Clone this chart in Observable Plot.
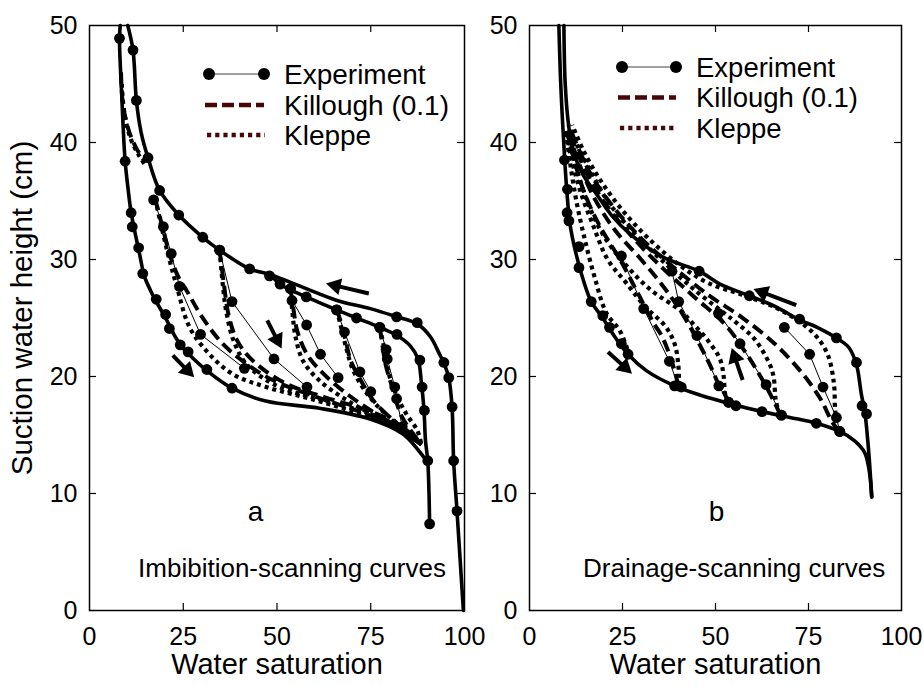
<!DOCTYPE html>
<html><head><meta charset="utf-8">
<script src="https://cdn.jsdelivr.net/npm/d3@7"></script>
<script src="https://cdn.jsdelivr.net/npm/@observablehq/plot@0.6"></script>
<style>
html,body{margin:0;padding:0;background:#fff;}
#wrap{position:relative;width:924px;height:685px;overflow:hidden;background:#fff;}
#wrap > div, #wrap > svg{position:absolute;top:0;}
</style></head>
<body><div id="wrap"><div id="pa" style="left:0"></div><div id="pb" style="left:470px"></div></div>
<script>
const FONT = '"Liberation Sans", Arial, Helvetica, sans-serif';

// ---------- shared axis values ----------
const xTicks = [0, 25, 50, 75, 100];
const yTicks = [0, 10, 20, 30, 40, 50];
const xInner = [25, 50, 75];
const yInner = [10, 20, 30, 40];
const xTitle = "Water saturation";
const yTitle = "Suction water height (cm)";
const legendLabels = ["Experiment", "Killough (0.1)", "Kleppe"];

// ---------- panel a : imbibition scanning ----------
const aBoundLower = [[8.2,50],[8.0,48.9],[8.6,44],[9.5,38.4],[10.3,36],[11.1,34.0],[12.2,32.2],[13.4,30.4],[14.6,28.6],[16.2,27.4],[17.8,26.4],[20.3,25.0],[22.5,23.6],[24.5,22.6],[26.5,21.9],[31.3,20.5],[38,19.0],[47,17.9],[61,17.3],[74.4,16.4],[83.5,15.1],[87.7,13.7],[89.6,12.9]];
const aBoundUpper = [[10.2,50],[11.6,47.9],[12.5,43.6],[13.8,40.8],[15.6,38.7],[18.7,35.9],[23.8,33.8],[30.2,31.9],[34.7,30.8],[42.7,29.2],[48.3,28.7],[57.1,27.6],[66,26.5],[74.9,25.8],[81.9,25.1],[87.4,24.5],[90.9,23.4],[93.2,22],[94.7,21.0],[95.8,19.9],[96.7,17.3],[97.1,12.8],[98,8.5],[99.7,0]];
const aBoundUpper2 = [[48.3,28.7],[50.8,27.9],[53.6,27.4],[57.8,26.8],[65.9,25.7],[71.2,25.0],[77.4,24.2],[82,23.5],[85.6,22.6],[87.6,21.5],[88.5,19.5],[89.2,17.1],[89.6,14.5],[90.2,12.8],[90.7,7.4]];
const aBoundDots = [[8.0,48.9],[9.5,38.4],[11.1,34.0],[11.4,32.8],[13.1,31.0],[14.2,28.8],[17.8,26.6],[20.3,25.3],[21.3,24.1],[24.2,22.7],[26.3,22.1],[31.3,20.6],[38,19.0],
  [11.6,47.9],[12.5,43.6],[15.6,38.7],[18.7,35.9],[23.8,33.8],[30.2,31.9],[34.7,30.8],[42.7,29.2],[48,28.6],[81.9,25.1],[87.4,24.6],[94.5,21.2],[95.8,19.9],[96.7,17.4],[97.1,12.8],[98,8.5],
  [50.8,27.9],[53.6,27.5],[57.8,26.8],[65.9,25.7],[71.2,25.0],[77.4,24.2],[82,23.6],[88.1,21.4],[88.7,19.1],[89.3,17.1],[90.2,12.8],[90.7,7.4]];
const aScanExp = [
  [[17.1,35.1],[19.7,32.8],[21.8,30.5],[24,27.7],[29.6,23.6],[41.3,20.7]],
  [[34.7,30.8],[38,26.4],[49.2,21.5],[58,19.1]],
  [[53.6,27.5],[54,26.5],[57.9,24.4],[61.6,21.9],[66.3,19.9]],
  [[65.9,25.7],[68,23.8],[72.1,20.4],[75,18.7]],
  [[77.4,24.2],[79.1,22.3],[79.4,21.5],[81.4,19.1],[81.9,18.1],[83.4,15.7]]
];
const aKillough = [
  [[8.4,46],[8.9,43.3],[10.5,41],[12.5,39.5],[14.7,38.4]],
  [[17.5,35.2],[19.6,32.6],[21.6,30.2],[24,28.3],[25.8,27.4],[30,25.1],[35.5,22.8],[41.8,21.1],[48.8,19.7],[60,18.3],[72,17.0],[82,15.7],[88.5,14.2]],
  [[34.7,30.8],[35.8,28],[37.2,25.1],[39.5,23],[43.4,21.4],[52.3,19.4],[63,18.2],[75,17],[83,15.8],[88.5,14.2]],
  [[53.6,27.5],[54.5,25.5],[55.4,23.9],[58,21.9],[62.5,20.2],[68.7,18.5],[75,17.1],[82,15.7],[88.5,14.2]],
  [[65.9,25.7],[66.5,25.2],[68.3,23.1],[69.6,21.4],[72.3,19.7],[75.8,17.9],[81.2,16.2],[88.5,14.2]],
  [[77.4,24.2],[78.2,22.5],[78.9,21.1],[80.7,19.1],[83.4,16.5],[88.5,14.2]]
];
const aKleppe = [
  [[8.6,45],[9.3,42.5],[11,40.3],[13,39],[15,38]],
  [[17.5,35.2],[19.2,32.8],[20.9,30.5],[23.2,27.8],[26.7,24.2],[32,21.9],[38.2,20.2],[47.1,19.1],[60,18],[72,16.8],[82,15.5],[88.5,14.2]],
  [[34.7,30.8],[35.5,28],[36.5,25.5],[38.5,23],[42,21],[50,19.2],[62,18],[74,16.9],[83,15.6],[88.5,14.2]],
  [[53.6,27.5],[54.2,25.2],[55,23.3],[57,21.3],[61.5,19.6],[68,18.1],[75,16.8],[82,15.5],[88.5,14.2]],
  [[65.9,25.7],[66.8,24.6],[68.5,22.4],[70.2,20.6],[73,19],[77,17.4],[82,16],[88.5,14.2]],
  [[77.4,24.2],[78.6,22.4],[79.6,20.5],[81.6,18.6],[84.5,16.8],[87.4,15.4],[88.5,14.2]]
];
const aArrows = [
  {x1: 74.5, y1: 27.1, x2: 63.8, y2: 27.9},
  {x1: 47.4, y1: 24.8, x2: 50.9, y2: 22.6},
  {x1: 22.2, y1: 21.8, x2: 27.4, y2: 20.1}
];
const aLetter = [{x: 44.3, y: 8.4, text: "a"}];
const aCaption = [{x: 54, y: 3.6, text: "Imbibition-scanning curves"}];

// ---------- panel b : drainage scanning ----------
const bBoundLower = [[7.9,50],[8.4,45],[9.2,40],[10,36],[10.9,33],[12.5,30.5],[14.5,28.2],[16.6,26.4],[19.7,25.0],[22.5,23.6],[26.5,21.9],[31.4,20.5],[39,19.2],[46,18.4],[53.7,17.7],[62.5,17.0],[70,16.5],[77.1,16.0],[83.4,15.3],[87.4,14.5],[90.1,13.5],[91.3,12],[92,9.7]];
const bBoundUpper = [[9.25,50],[9.6,45],[10.5,41.5],[11.7,39.3],[14.5,37.2],[18,35.6],[22,33.8],[27,32.2],[35.9,30.2],[45.6,29.0],[51.2,27.9],[59.1,26.9],[66,26],[72.2,24.9],[78,24.1],[82.5,23.3],[85.8,22.5],[87.9,21.0],[89.2,18.5],[90.2,16.8],[91.2,13.5],[92,9.7]];
const bBoundDots = [[9.4,38.5],[10.2,36],[10.1,34],[10.6,33.3],[13.3,31.1],[13.3,29.3],[16.6,26.4],[19.7,25.2],[21.5,24.2],[24.7,22.8],[26.5,21.9],[39,19.2],[40.8,19.1],[53.5,17.8],[55.5,17.5],[62.5,17.0],[67.7,16.7],[77.1,16.0],[83.4,15.3],
  [45.6,29.0],[59.1,26.9],[72.6,24.9],[82.5,23.3],[87.9,21.2],[89.4,17.5],[90.6,16.8]];
const bScanExp = [
  [[40,19.2],[37.6,21.3],[30.7,25.8],[24.7,30.3]],
  [[53.5,17.8],[50.9,19.2],[45,23.5],[40.1,26.4],[38.3,29.0]],
  [[67.7,16.7],[63.6,19.3],[56.6,22.8],[50.8,25.4]],
  [[83.4,15.3],[82.5,16.5],[78.9,19.1],[75.3,21.9],[68.5,24.2]]
];
const bKillough = [
  [[40,19.2],[39,20.5],[37.5,22],[35.5,23.5],[33.5,24.5],[29,27.2],[24.5,29.9],[19,32.8],[15,35.5],[12,38.5],[10,41]],
  [[53.5,17.8],[52,18.8],[50.6,19.5],[48.5,21],[46.1,22.5],[41.6,25.1],[36.2,27.6],[30,30],[23,32.5],[17,35.5],[13,38.5],[10.5,40.8]],
  [[67.5,16.7],[65.5,18],[63.2,19.4],[57.8,22.2],[52.4,24.5],[44.3,26.8],[36,29.2],[28,31.8],[21,34.5],[15.5,37.3],[12,39.8],[10.5,41]],
  [[83.4,15.3],[81.6,16],[78,18.2],[73,20.4],[65.9,22.8],[56.9,25.1],[48.8,26.8],[40,29],[31,31.5],[23,34.3],[17,37],[13,39.6],[10.8,41.3]]
];
const bKleppe = [
  [[27,21.7],[24.3,23.9],[20.7,25.4],[17.5,28.5],[14.8,31.8],[12.6,35],[10.8,38.5],[9.8,41]],
  [[40.2,19.2],[40,21],[39,22.8],[36.5,24.3],[31,26],[26,28],[21,30],[17,33],[13.5,36],[11,39],[9.8,41]],
  [[53.5,17.8],[52.6,18.5],[52.2,20],[51.2,21.5],[47.9,23.1],[44,24.5],[40.7,25.6],[32.6,27.4],[26,29.5],[20,32],[15.5,35],[12,38.5],[10.2,41]],
  [[67.2,16.7],[66.2,18],[65.6,20],[64.5,21.1],[60.5,23.2],[56,24.5],[52.4,25.4],[44,27.5],[36,29.8],[28,32.3],[21,35],[16,37.8],[12,40.3],[10.5,41.5]],
  [[83,15.4],[82.2,17],[81.8,19.5],[80,22],[76,23.8],[68,25.6],[58,26.9],[48,28],[40,29.6],[32,31.8],[25,34.2],[19,36.8],[14.5,39.3],[11.5,41.5]]
];
const bArrows = [
  {x1: 71.7, y1: 26.1, x2: 60.9, y2: 27.4},
  {x1: 57.3, y1: 19.7, x2: 54.6, y2: 22.2},
  {x1: 21.1, y1: 22.1, x2: 27.0, y2: 20.4}
];
const bLetter = [{x: 50.3, y: 8.4, text: "b"}];
const bCaption = [{x: 55, y: 3.6, text: "Drainage-scanning curves"}];

// ---------- helpers ----------
const pts = (list, id) => list.map(([x, y]) => ({x, y, id}));
const many = (lists, p) => lists.flatMap((l, i) => pts(l, p + i));

function panel(o) {
  const H = 685, mt = 25, mb = 75;
  const ph = H - mt - mb, pw = o.width - o.ml - o.mr;
  const kx = pw / 100, ky = ph / 50;          // pixels per data unit (for arrow-head orientation)
  const BACK = 7;
  const heads = o.arrows.map(a => {
    const dxp = (a.x2 - a.x1) * kx, dyp = -(a.y2 - a.y1) * ky;
    const L = Math.hypot(dxp, dyp), ux = dxp / L, uy = dyp / L;
    return {x1: a.x1, y1: a.y1, x: a.x2 - ux * BACK / kx, y: a.y2 + uy * BACK / ky,
            rot: Math.atan2(ux, -uy) * 180 / Math.PI};
  });
  const marks = [
    Plot.line(many(o.klep, "k"), {x: "x", y: "y", z: "id", curve: "catmull-rom", stroke: "black", strokeWidth: 4.2, strokeDasharray: "4,4", strokeLinecap: "butt"}),
    Plot.line(many(o.kill, "d"), {x: "x", y: "y", z: "id", curve: "catmull-rom", stroke: "black", strokeWidth: 4, strokeDasharray: "12,6", strokeLinecap: "butt"}),
    Plot.line(many(o.exp, "e"), {x: "x", y: "y", z: "id", stroke: "black", strokeWidth: 1}),
    Plot.line(many(o.bounds, "b"), {x: "x", y: "y", z: "id", curve: "catmull-rom", stroke: "black", strokeWidth: 3.6}),
    Plot.dot(pts(o.dots.concat(o.exp.flat()), "p"), {x: "x", y: "y", r: 5.4, fill: "black", stroke: "none"}),
    Plot.link(heads, {x1: "x1", y1: "y1", x2: "x", y2: "y", stroke: "black", strokeWidth: 4}),
    Plot.dot(heads, {x: "x", y: "y", symbol: "triangle", r: 6.3, rotate: "rot", fill: "black", stroke: "none"}),
    Plot.text(o.letter, {x: "x", y: "y", text: "text", fontSize: 28, fill: "black"}),
    Plot.text(o.caption, {x: "x", y: "y", text: "text", fontSize: 26, fill: "black"}),
    Plot.frame({stroke: "black", strokeWidth: 1.5}),
    Plot.tickX(xInner, {x: d => d, insetTop: ph - 7, stroke: "black", strokeWidth: 1.2}),
    Plot.tickX(xInner, {x: d => d, insetBottom: ph - 7, stroke: "black", strokeWidth: 1.2}),
    Plot.tickY(yInner, {y: d => d, insetRight: pw - 7, stroke: "black", strokeWidth: 1.2}),
    Plot.tickY(yInner, {y: d => d, insetLeft: pw - 7, stroke: "black", strokeWidth: 1.2}),
    Plot.axisX(xTicks, {tickSize: 0, tickPadding: 17, fontSize: 25, label: null, fill: "black"}),
    Plot.axisY(yTicks, {tickSize: 0, tickPadding: 12, fontSize: 25, label: null, fill: "black"}),
    Plot.text([xTitle], {frameAnchor: "bottom", dy: 63, fontSize: 29, fill: "black", textAnchor: "middle"})
  ];
  if (o.yLabel) marks.push(Plot.text([yTitle], {frameAnchor: "left", rotate: -90, dx: -67, dy: -10, fontSize: 29.5, fill: "black", textAnchor: "middle"}));
  return Plot.plot({
    width: o.width, height: H, marginTop: mt, marginBottom: mb, marginLeft: o.ml, marginRight: o.mr,
    style: {fontFamily: FONT, background: "transparent", overflow: "visible", color: "black"},
    x: {domain: [0, 100]},
    y: {domain: [0, 50]},
    marks
  });
}

document.getElementById("pa").append(panel({
  width: 470, ml: 89, mr: 6, bounds: [aBoundLower, aBoundUpper, aBoundUpper2], dots: aBoundDots,
  exp: aScanExp, kill: aKillough, klep: aKleppe, arrows: aArrows, letter: aLetter, caption: aCaption, yLabel: true
}));
document.getElementById("pb").append(panel({
  width: 454, ml: 59, mr: 23, bounds: [bBoundLower, bBoundUpper], dots: bBoundDots,
  exp: bScanExp, kill: bKillough, klep: bKleppe, arrows: bArrows, letter: bLetter, caption: bCaption, yLabel: false
}));

// ---------- legends (overlay) ----------
const legendBoxes = [
  {x1: 209, x2: 264, tx: 284, rows: [74, 105, 135], fs: 28},
  {x1: 622, x2: 676, tx: 696, rows: [67, 97.5, 128], fs: 27.5}
];
const MAROON = "#4a0606";
const ov = d3.create("svg").attr("width", 924).attr("height", 685)
  .style("position", "absolute").style("left", "0").style("top", "0").style("pointer-events", "none");
for (const L of legendBoxes) {
  const g = ov.append("g");
  const [r0, r1, r2] = L.rows;
  g.append("line").attr("x1", L.x1).attr("x2", L.x2).attr("y1", r0).attr("y2", r0).attr("stroke", "#808080").attr("stroke-width", 1.5);
  g.append("circle").attr("cx", L.x1).attr("cy", r0).attr("r", 6).attr("fill", "black");
  g.append("circle").attr("cx", L.x2).attr("cy", r0).attr("r", 6).attr("fill", "black");
  g.append("line").attr("x1", L.x1 - 4).attr("x2", L.x2).attr("y1", r1).attr("y2", r1).attr("stroke", MAROON).attr("stroke-width", 4.5).attr("stroke-dasharray", "12,5");
  g.append("line").attr("x1", L.x1 - 2).attr("x2", L.x2 + 1).attr("y1", r2).attr("y2", r2).attr("stroke", MAROON).attr("stroke-width", 4.5).attr("stroke-dasharray", "4.2,4");
  legendLabels.forEach((t, i) => {
    g.append("text").attr("x", L.tx).attr("y", L.rows[i]).attr("dy", "0.35em")
      .attr("font-family", FONT).attr("font-size", L.fs).attr("fill", "black").text(t);
  });
}
document.getElementById("wrap").append(ov.node());
</script></body></html>
